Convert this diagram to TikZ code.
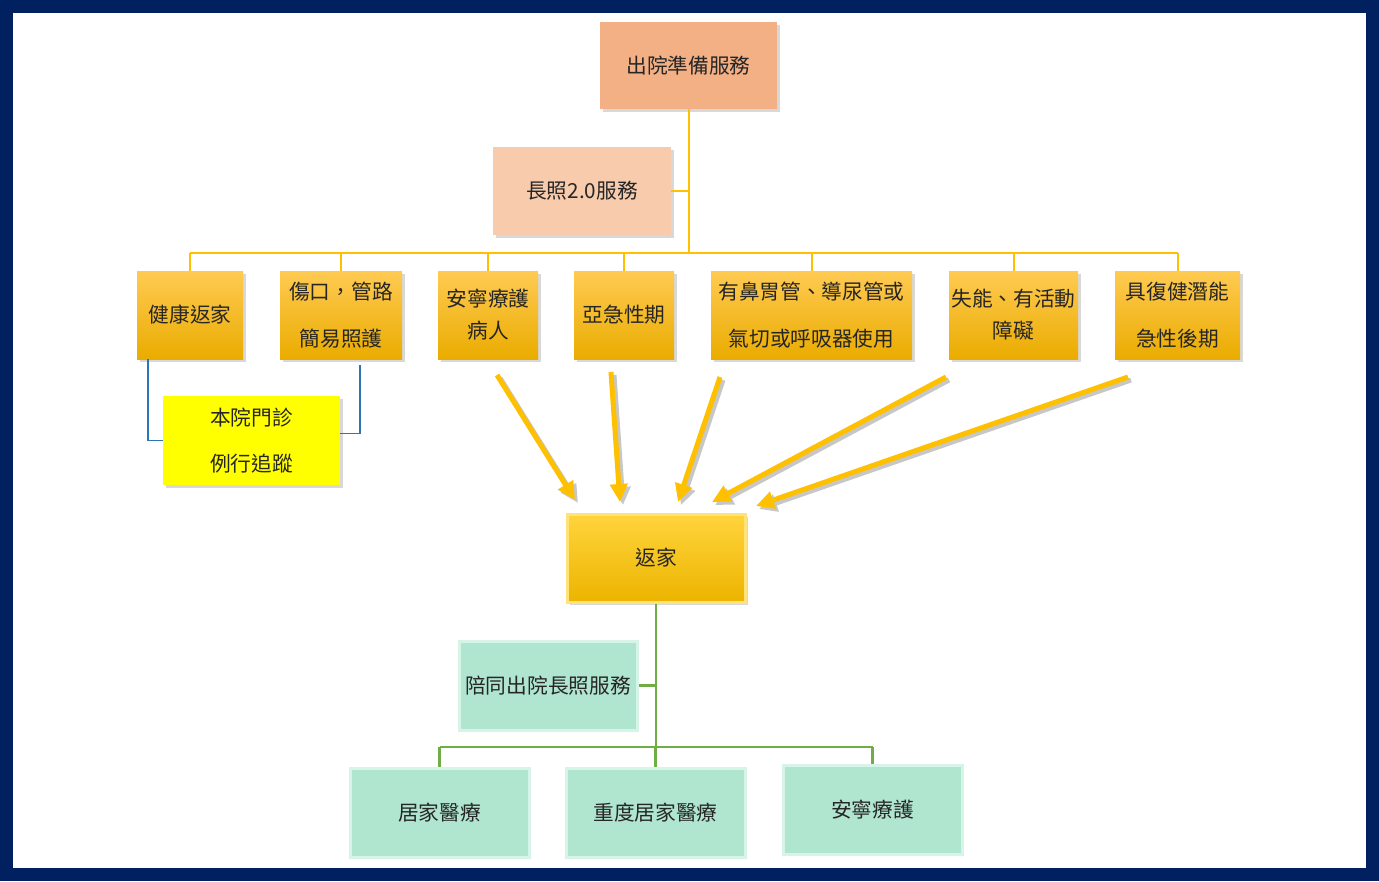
\documentclass[tikz,border=0pt]{standalone}
\usepackage{fontspec}
\setmainfont{Noto Sans CJK TC}
\usetikzlibrary{arrows.meta,shadows}
\definecolor{navy}{HTML}{002060}
\definecolor{salmon}{HTML}{F3B085}
\definecolor{peach}{HTML}{F8CBAD}
\definecolor{gold}{HTML}{FFC000}
\definecolor{bline}{HTML}{2E75B6}
\definecolor{gline}{HTML}{70AD47}
\definecolor{mint}{RGB}{176,230,207}
\definecolor{mintedge}{RGB}{214,245,232}
\definecolor{orangetop}{RGB}{255,202,82}
\definecolor{orangebot}{RGB}{234,172,0}
\definecolor{hometop}{RGB}{255,212,60}
\definecolor{homebot}{RGB}{236,180,0}
\definecolor{homeedge}{RGB}{255,226,120}
\definecolor{brightyellow}{RGB}{255,255,0}
\tikzset{
  box/.style={rectangle, inner sep=0pt, align=center, text=black!85},
  shad/.style={drop shadow={shadow xshift=3pt, shadow yshift=-3pt, opacity=0.3}},
  salmonbox/.style={box, shad, fill=salmon, minimum width=177pt, minimum height=87pt},
  peachbox/.style={box, shad, fill=peach, minimum width=178pt, minimum height=88pt},
  orangebox/.style={box, shad, top color=orangetop, bottom color=orangebot, minimum height=88pt},
  yellowbox/.style={box, shad, fill=brightyellow, minimum width=177pt, minimum height=89pt},
  homebox/.style={box, shad, top color=hometop, bottom color=homebot, draw=homeedge, line width=3pt, minimum width=178pt, minimum height=88pt},
  mintbox/.style={box, fill=mint, draw=mintedge, line width=3pt, minimum width=178pt, minimum height=89pt},
  yconn/.style={gold, line width=2pt},
  bconn/.style={bline, line width=1.8pt},
  gconn/.style={gline, line width=2.2pt},
  bigarrow/.style={gold, line width=5pt, -{Triangle[length=18pt,width=17pt]}},
  arrowshadow/.style={black!22, line width=5pt, -{Triangle[length=18pt,width=17pt]}},
}
\begin{document}
\begin{tikzpicture}[x=1pt,y=-1pt,font=\fontsize{20.7}{32}\selectfont]
\useasboundingbox (0,0) rectangle (1379,881);
\fill[white] (0,0) rectangle (1379,881);
\draw[navy, line width=13pt] (6.5,6.5) rectangle (1372.5,874.5);

% top level
\node[salmonbox] (top) at (688.5,65.5) {出院準備服務};
\node[peachbox] (ltc) at (582,191) {長照2.0服務};

% second level
\node[orangebox, minimum width=106pt] (health) at (190,315) {健康返家};
\node[orangebox, minimum width=122pt] (wound) at (341,315) {傷口，管路\\[15pt]簡易照護};
\node[orangebox, minimum width=100pt] (hospice) at (488,315) {安寧療護\\病人};
\node[orangebox, minimum width=100pt] (subacute) at (624,315) {亞急性期};
\node[orangebox, minimum width=201pt] (tube) at (811.5,315) {有鼻胃管、導尿管或\\[15pt]氣切或呼吸器使用};
\node[orangebox, minimum width=129pt] (disab) at (1013.5,315) {失能、有活動\\障礙};
\node[orangebox, minimum width=125pt] (rehab) at (1177.5,315) {具復健潛能\\[15pt]急性後期};

\node[yellowbox] (clinic) at (251.5,440.5) {本院門診\\[14pt]例行追蹤};

% yellow connectors
\coordinate (busY) at (0,253);
\draw[yconn] (top.south) -- (top.south |- busY);
\draw[yconn] (ltc.east) -- (ltc.east -| top.south);
\draw[yconn] (health.north |- busY) -- (rehab.north |- busY);
\foreach \n in {health,wound,hospice,subacute,tube,disab,rehab}
  \draw[yconn] (\n.north) -- (\n.north |- busY);

% blue connectors
\draw[bconn] ([xshift=-42pt]health.south) |- (clinic.west);
\draw[bconn] ([shift={(19pt,-6pt)}]wound.south) |- ([yshift=7pt]clinic.east);

% home
\node[homebox] (home) at (656,558) {返家};

% big arrows
\coordinate (s1) at (497,375); \coordinate (e1) at (575,500);
\coordinate (s2) at (611,372); \coordinate (e2) at (620,502);
\coordinate (s3) at (720,377); \coordinate (e3) at (678,502);
\coordinate (s4) at (946,377); \coordinate (e4) at (712,502);
\coordinate (s5) at (1128,377); \coordinate (e5) at (756,506);
\foreach \i in {1,...,5}
  \draw[arrowshadow] ([shift={(3pt,-3pt)}]s\i) -- ([shift={(3pt,-3pt)}]e\i);
\foreach \i in {1,...,5}
  \draw[bigarrow] (s\i) -- (e\i);

% bottom level
\node[mintbox] (accomp) at (548,685.5) {陪同出院長照服務};
\node[mintbox, minimum width=179pt] (homecare) at (439.5,812.5) {居家醫療};
\node[mintbox, minimum width=179pt] (severe) at (655.5,812.5) {重度居家醫療};
\node[mintbox, minimum width=179pt] (hosp2) at (872.5,809.5) {安寧療護};

% green connectors
\coordinate (gbus) at (0,747);
\draw[gconn] (home.south) -- (home.south |- gbus);
\draw[gconn] (accomp.east) -- (accomp.east -| home.south);
\draw[gconn] (homecare.north |- gbus) -- (hosp2.north |- gbus);
\foreach \n in {homecare,severe,hosp2}
  \draw[gconn] (\n.north) -- (\n.north |- gbus);
\end{tikzpicture}
\end{document}
